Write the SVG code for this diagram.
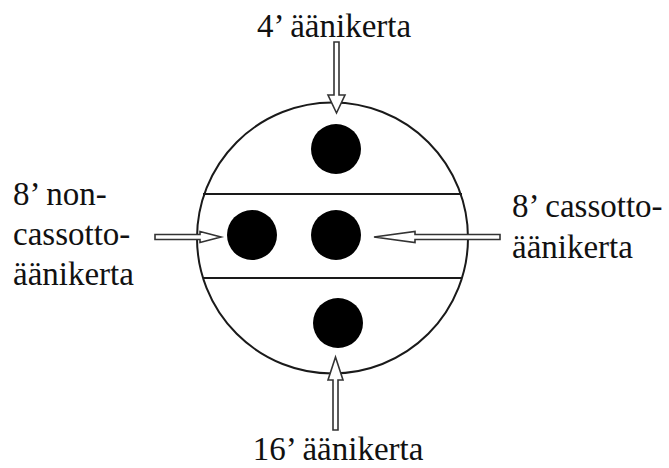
<svg xmlns="http://www.w3.org/2000/svg" width="669" height="468" viewBox="0 0 669 468">
<style>
.ol{fill:none;stroke:#1a1a1a;stroke-width:2}
.dot{fill:#000}
.arr{fill:#fff;stroke:#333;stroke-width:1.6;stroke-linejoin:miter}
.t{font-family:"Liberation Serif","Times New Roman",serif;font-size:33px;fill:#111}
</style>
<rect width="669" height="468" fill="#fff"/>
<g id="body">
<circle class="ol" cx="332.5" cy="238" r="135.5"/>
<line class="ol" x1="203" y1="194" x2="462" y2="194"/>
<line class="ol" x1="203" y1="278" x2="462" y2="278"/>
</g>
<g id="pipe-4"><circle class="dot" cx="336" cy="149" r="25"/></g>
<g id="pipe-8-non"><circle class="dot" cx="252" cy="235" r="25"/></g>
<g id="pipe-8-cassotto"><circle class="dot" cx="336" cy="235" r="25"/></g>
<g id="pipe-16"><circle class="dot" cx="338" cy="323" r="25"/></g>
<g id="connectors">
<polygon class="arr" points="334,42 339,42 339,95 345,95 336.5,113 328,95 334,95"/>
<polygon class="arr" points="333,430 338,430 338,380 343,380 335.5,357 328,380 333,380"/>
<polygon class="arr" points="155,234.5 200,234.5 200,231.5 221,237 200,242.5 200,239.5 155,239.5"/>
<polygon class="arr" points="500,234.5 415,234.5 415,231.5 374,237 415,242.5 415,239.5 500,239.5"/>
</g>
<g id="labels">
<text class="t" x="334" y="37" text-anchor="middle">4’ äänikerta</text>
<text class="t" x="338" y="460" text-anchor="middle">16’ äänikerta</text>
<text class="t" x="13" y="205">8’ non-</text>
<text class="t" x="13" y="245">cassotto-</text>
<text class="t" x="13" y="285">äänikerta</text>
<text class="t" x="512" y="217">8’ cassotto-</text>
<text class="t" x="512" y="258">äänikerta</text>
</g>
</svg>
